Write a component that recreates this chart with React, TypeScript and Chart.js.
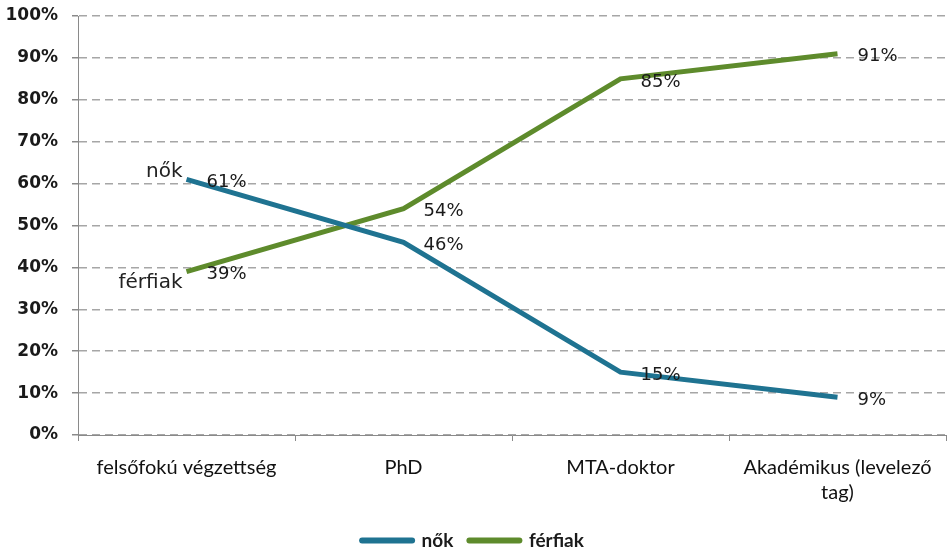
import React, { useEffect, useRef } from "react";
import { Chart, registerables } from "chart.js";

Chart.register(...registerables);

const categories: (string | string[])[] = [
  "felsőfokú végzettség",
  "PhD",
  "MTA-doktor",
  ["Akadémikus (levelező", "tag)"],
];
const nokValues = [61, 46, 15, 9];
const ferfiakValues = [39, 54, 85, 91];
const seriesNames = ["nők", "férfiak"];
const yTicks = [0, 10, 20, 30, 40, 50, 60, 70, 80, 90, 100];

const BLUE = "#1f7391";
const GREEN = "#5e8b2c";

const labelPlugin = {
  id: "valueLabels",
  afterLayout(chart: any) {
    if (chart.legend) {
      chart.legend.top += 8;
      chart.legend.bottom += 8;
    }
  },
  afterDatasetsDraw(chart: any) {
    const ctx = chart.ctx;
    ctx.save();
    chart.data.datasets.forEach((ds: any, di: number) => {
      const meta = chart.getDatasetMeta(di);
      meta.data.forEach((pt: any, i: number) => {
        ctx.font = "18px 'DejaVu Sans'";
        ctx.fillStyle = "#1a1a1a";
        ctx.textAlign = "left";
        ctx.textBaseline = "middle";
        ctx.fillText(ds.data[i] + "%", pt.x + 20, pt.y + 3);
      });
      const first = meta.data[0];
      ctx.font = "20px 'DejaVu Sans'";
      ctx.fillStyle = "#222";
      ctx.textAlign = "right";
      ctx.textBaseline = "middle";
      const dy = di === 0 ? -8 : 11;
      ctx.fillText(ds.label, first.x - 4, first.y + dy);
    });
    ctx.restore();
  },
};

export default function App() {
  const ref = useRef<HTMLCanvasElement>(null);
  useEffect(() => {
    document.body.style.margin = "0";
    const chart = new Chart(ref.current!, {
      type: "line",
      data: {
        labels: categories as any,
        datasets: [
          {
            label: seriesNames[0],
            data: nokValues,
            borderColor: BLUE,
            backgroundColor: BLUE,
            borderWidth: 5,
            pointRadius: 0,
            tension: 0,
          },
          {
            label: seriesNames[1],
            data: ferfiakValues,
            borderColor: GREEN,
            backgroundColor: GREEN,
            borderWidth: 5,
            pointRadius: 0,
            tension: 0,
          },
        ],
      },
      options: {
        responsive: false,
        animation: false,
        layout: { padding: { top: 16, right: 2, left: 0, bottom: 0 } },
        plugins: {
          tooltip: { enabled: false },
          legend: {
            position: "bottom",
            labels: {
              usePointStyle: true,
              pointStyle: "line",
              pointStyleWidth: 50,
              boxHeight: 6,
              padding: 16,
              color: "#1a1a1a",
              font: { family: "Lato", size: 19, weight: "bold" },
              generateLabels: (c: any) =>
                c.data.datasets.map((ds: any, i: number) => ({
                  text: ds.label,
                  fillStyle: ds.borderColor,
                  strokeStyle: ds.borderColor,
                  lineWidth: 6,
                  lineCap: "round",
                  pointStyle: "line",
                  hidden: false,
                  datasetIndex: i,
                  fontColor: "#1a1a1a",
                })),
            },
          },
        },
        scales: {
          x: {
            offset: true,
            grid: {
              offset: true,
              drawOnChartArea: false,
              drawTicks: true,
              tickLength: 6,
              color: "#8a8a8a",
            },
            border: { color: "#8a8a8a", width: 1 },
            ticks: {
              color: "#111",
              font: { family: "Lato", size: 20, lineHeight: 1.25 },
              padding: 14,
              maxRotation: 0,
              autoSkip: false,
            },
            afterFit: (scale: any) => {
              const lh = scale.chart.legend ? scale.chart.legend.height : 0;
              scale.height = 552 - 435 - lh;
            },
          },
          y: {
            min: 0,
            max: 100,
            afterBuildTicks: (scale: any) => {
              scale.ticks = yTicks.map((v) => ({ value: v }));
            },
            ticks: {
              callback: (v: any) => v + "%",
              color: "#1a1a1a",
              font: { family: "'DejaVu Sans'", size: 17, weight: "bold" },
              padding: 14,
            },
            grid: {
              color: "#a6a6a6",
              tickLength: 6,
              tickBorderDash: [],
              tickColor: "#8a8a8a",
              lineWidth: 1.5,
            },
            border: { color: "#8a8a8a", width: 1, dash: [8, 5] },
            afterFit: (scale: any) => {
              scale.width = 78;
              scale.paddingTop = 0;
              scale.paddingBottom = 0;
            },
          },
        },
      },
      plugins: [labelPlugin],
    });
    return () => chart.destroy();
  }, []);
  return <canvas ref={ref} width={948} height={552} />;
}
